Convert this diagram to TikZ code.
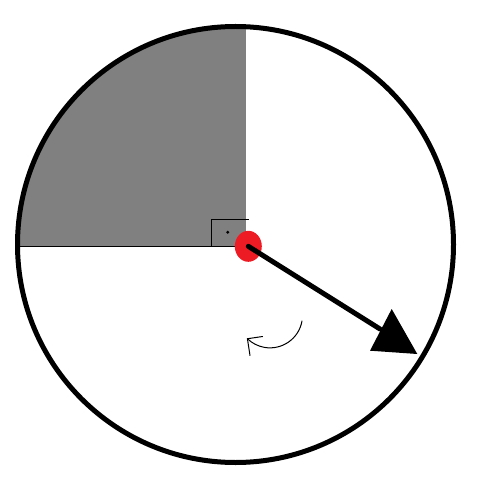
\documentclass[tikz,border=0pt]{standalone}
\usepackage{tikz}
\usetikzlibrary{arrows.meta}
\definecolor{sectorgray}{RGB}{128,128,128}
\definecolor{pinred}{RGB}{237,28,36}

\begin{document}
\begin{tikzpicture}[x=1pt,y=-1pt,line cap=round,thin line/.style={line width=1pt}]
\useasboundingbox (0,0) rectangle (486,478);
\coordinate (M) at (235.5,244.5);\coordinate (P) at (248.3,246.3);
\begin{scope}\clip (M) circle (218);
\fill[sectorgray] (0,0) rectangle (245.7,246.3);\draw[thin line,line cap=butt] (0,246.3)--(P);\end{scope}
\draw[thin line,line cap=butt] (211.7,246.3)--(211.7,219.3)--(249,219.3);\fill (227.7,232.3) circle (1.6);
\draw[line width=5pt] (M) circle (218);
\fill[pinred] (P) ellipse (13.5 and 15.5);
\draw[line width=5pt] (P)--(380,329);\fill (391.7,309)--(370,350.7)--(417.3,354)--cycle;
\draw[thin line] (302,321) arc (10:134:32.5) coordinate (T);
\draw[thin line] (262.5,336.5)--(T)--(250,355.5);
\end{tikzpicture}
\end{document}
